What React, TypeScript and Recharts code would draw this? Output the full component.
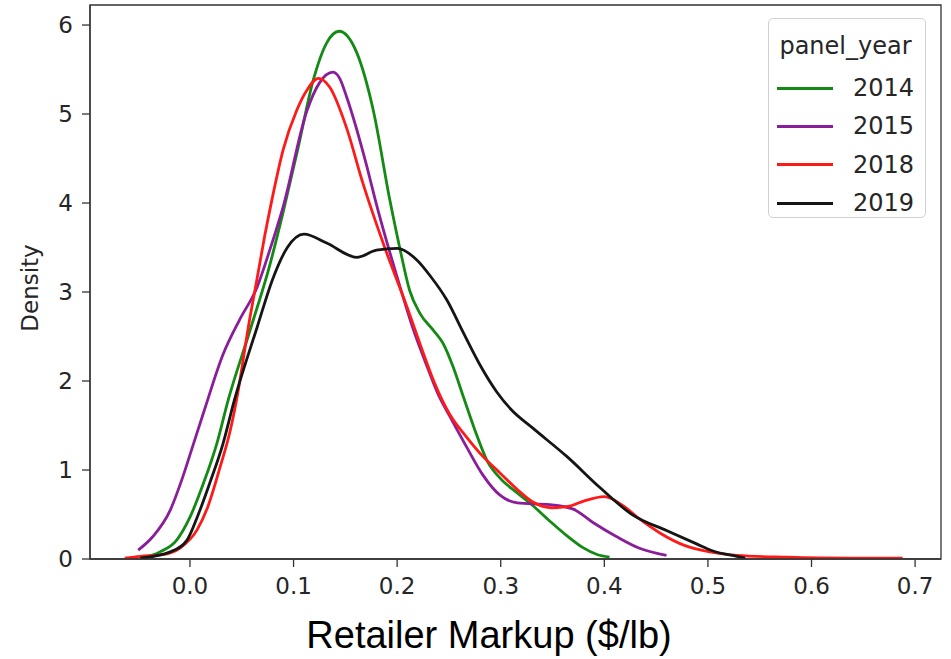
import React from 'react';
import {
  Label,
  Line,
  LineChart,
  ReferenceArea,
  XAxis,
  YAxis,
} from 'recharts';

// kde curves: [markup $/lb, density]
const kde2014: [number, number][] = [
  [-0.048, 0.01], [-0.029, 0.08], [-0.013, 0.21], [0, 0.47], [0.013, 0.85], [0.026, 1.3],
  [0.037, 1.79], [0.058, 2.57], [0.077, 3.3], [0.09, 3.9], [0.104, 4.6], [0.119, 5.38],
  [0.132, 5.8], [0.144, 5.93], [0.161, 5.69], [0.177, 5.04], [0.193, 4.03], [0.203, 3.47],
  [0.212, 3.02], [0.222, 2.76], [0.235, 2.57], [0.244, 2.43], [0.254, 2.16], [0.264, 1.82],
  [0.275, 1.45], [0.287, 1.1], [0.3, 0.9], [0.315, 0.75], [0.33, 0.61], [0.347, 0.43],
  [0.364, 0.26], [0.379, 0.13], [0.393, 0.05], [0.405, 0.02],
];

const kde2015: [number, number][] = [
  [-0.05, 0.1], [-0.036, 0.25], [-0.019, 0.55], [-0.007, 0.92], [0.003, 1.28], [0.013, 1.64],
  [0.032, 2.3], [0.048, 2.69], [0.065, 3.06], [0.077, 3.47], [0.09, 3.96], [0.113, 5.04],
  [0.125, 5.35], [0.138, 5.47], [0.145, 5.39], [0.151, 5.2], [0.171, 4.4], [0.179, 4.03],
  [0.203, 3.05], [0.215, 2.6], [0.229, 2.16], [0.24, 1.84], [0.251, 1.6], [0.267, 1.26],
  [0.283, 0.94], [0.299, 0.72], [0.316, 0.63], [0.347, 0.61], [0.37, 0.56], [0.389, 0.41],
  [0.412, 0.25], [0.434, 0.12], [0.46, 0.04],
];

const kde2018: [number, number][] = [
  [-0.063, 0.01], [-0.048, 0.03], [-0.026, 0.05], [-0.01, 0.12], [0.007, 0.33], [0.017, 0.58],
  [0.029, 1.03], [0.039, 1.45], [0.045, 1.79], [0.058, 2.72], [0.064, 3.1], [0.072, 3.62],
  [0.079, 4.03], [0.09, 4.6], [0.103, 5.04], [0.113, 5.27], [0.124, 5.4], [0.135, 5.3],
  [0.151, 4.85], [0.167, 4.22], [0.188, 3.5], [0.209, 2.85], [0.222, 2.42], [0.236, 1.98],
  [0.251, 1.62], [0.267, 1.37], [0.283, 1.15], [0.299, 0.97], [0.316, 0.78], [0.331, 0.64],
  [0.35, 0.575], [0.365, 0.59], [0.38, 0.65], [0.4, 0.7], [0.418, 0.6], [0.434, 0.45],
  [0.454, 0.29], [0.478, 0.15], [0.502, 0.08], [0.528, 0.04], [0.576, 0.02], [0.637, 0.01],
  [0.688, 0.01],
];

const kde2019: [number, number][] = [
  [-0.048, 0.01], [-0.019, 0.08], [-0.003, 0.21], [0.007, 0.47], [0.019, 0.85], [0.032, 1.3],
  [0.043, 1.79], [0.065, 2.61], [0.08, 3.15], [0.094, 3.5], [0.11, 3.65], [0.132, 3.55],
  [0.161, 3.39], [0.18, 3.47], [0.2, 3.49], [0.219, 3.36], [0.232, 3.18], [0.248, 2.91],
  [0.264, 2.54], [0.28, 2.18], [0.296, 1.88], [0.31, 1.68], [0.331, 1.47], [0.364, 1.15],
  [0.396, 0.8], [0.428, 0.49], [0.46, 0.32], [0.489, 0.17], [0.505, 0.09], [0.528, 0.03],
  [0.536, 0.01],
];

const years = ['2014', '2015', '2018', '2019'];
const curves = [kde2014, kde2015, kde2018, kde2019];
const colors = ['#138a13', '#8a1d9a', '#ff1a1a', '#151515'];

const xTicks = [0, 0.1, 0.2, 0.3, 0.4, 0.5, 0.6, 0.7];
const yTicks = [0, 1, 2, 3, 4, 5, 6];
const X_DOMAIN: [number, number] = [-0.0965, 0.725];
const Y_DOMAIN: [number, number] = [0, 6.225];

const tickFont = { fontSize: 23, fill: '#262626', fontFamily: 'DejaVu Sans' };

function LegendBox() {
  return (
    <div
      style={{
        position: 'absolute',
        left: 768,
        top: 18,
        width: 158,
        height: 200,
        border: '1px solid #d0d0d0',
        borderRadius: 5,
        background: 'rgba(255,255,255,0.85)',
        padding: '8px 11px 0 8px',
        fontFamily: 'DejaVu Sans',
        fontSize: 24,
        color: '#262626',
        boxSizing: 'border-box',
      }}
    >
      <div style={{ textAlign: 'center', lineHeight: '38px', height: 42 }}>panel_year</div>
      {years.map((y, i) => (
        <div key={y} style={{ display: 'flex', alignItems: 'center', height: 38.3 }}>
          <span style={{ display: 'inline-block', width: 56, height: 3, background: colors[i] }} />
          <span style={{ marginLeft: 'auto' }}>{y}</span>
        </div>
      ))}
    </div>
  );
}

export default function App() {
  const series = years.map((year, i) => ({
    name: year,
    color: colors[i],
    data: curves[i].map(([x, d]) => ({ x, d })),
  }));

  return (
    <div style={{ position: 'absolute', left: 0, top: 0, width: 951, height: 659, background: '#fff' }}>
      <LineChart width={951} height={659} margin={{ top: 5, right: 10, bottom: 0, left: 0 }}>
        <XAxis
          type="number"
          dataKey="x"
          domain={X_DOMAIN}
          allowDataOverflow
          ticks={xTicks}
          tickFormatter={(v: number) => v.toFixed(1)}
          height={100}
          tick={tickFont}
          tickSize={8}
          tickMargin={11}
          stroke="#333"
          strokeWidth={1.3}
        >
          <Label
            content={() => (
              <text
                x={489}
                y={648}
                textAnchor="middle"
                fontFamily="Liberation Sans, Arial"
                fontSize={38}
                fill="#000"
              >
                Retailer Markup ($/lb)
              </text>
            )}
          />
        </XAxis>
        <YAxis
          type="number"
          domain={Y_DOMAIN}
          allowDataOverflow
          ticks={yTicks}
          width={90}
          tick={tickFont}
          tickSize={8}
          tickMargin={9}
          stroke="#333"
          strokeWidth={1.3}
        >
          <Label
            content={() => (
              <text
                x={38}
                y={288}
                transform="rotate(-90 38 288)"
                textAnchor="middle"
                fontFamily="DejaVu Sans"
                fontSize={23}
                fill="#262626"
              >
                Density
              </text>
            )}
          />
        </YAxis>
        <ReferenceArea
          x1={X_DOMAIN[0]}
          x2={X_DOMAIN[1]}
          y1={Y_DOMAIN[0]}
          y2={Y_DOMAIN[1]}
          fill="none"
          stroke="#333"
          strokeWidth={1.3}
          ifOverflow="visible"
        />
        {series.map((s) => (
          <Line
            key={s.name}
            data={s.data}
            dataKey="d"
            name={s.name}
            type="monotone"
            stroke={s.color}
            strokeWidth={2.8}
            dot={false}
            activeDot={false}
            isAnimationActive={false}
          />
        ))}
      </LineChart>
      <LegendBox />
    </div>
  );
}
